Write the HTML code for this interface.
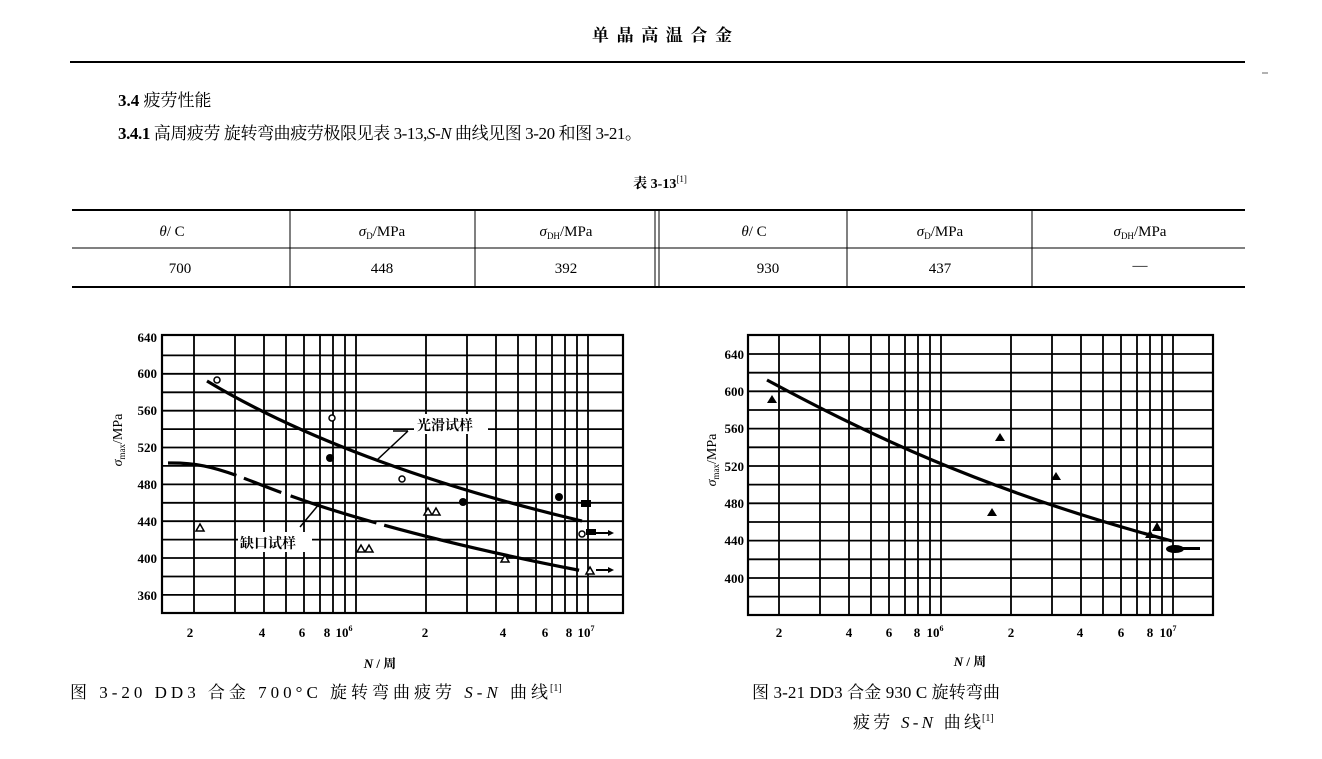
<!DOCTYPE html>
<html><head><meta charset="utf-8"><style>
html,body{margin:0;padding:0;background:#fff;}
svg{display:block;}
text{font-family:"Liberation Serif","Noto Serif CJK SC","Noto Sans CJK SC",serif;fill:#000;}
.b{font-weight:bold;}
.tk{font-size:13px;font-weight:bold;}
</style></head><body>
<svg width="1322" height="759" viewBox="0 0 1322 759" xmlns="http://www.w3.org/2000/svg">
<!-- header -->
<text x="592" y="41" font-size="17" class="b" textLength="140" lengthAdjust="spacing">单晶高温合金</text>
<line x1="70" y1="62" x2="1245" y2="62" stroke="#000" stroke-width="2"/>
<line x1="1262" y1="73" x2="1268" y2="73" stroke="#666" stroke-width="1"/>
<text x="118" y="106" font-size="17" class="b">3.4  <tspan font-weight="normal">疲劳性能</tspan></text>
<text x="118" y="139" font-size="17" textLength="524" lengthAdjust="spacing"><tspan class="b">3.4.1</tspan>  高周疲劳  旋转弯曲疲劳极限见表 3-13,<tspan font-style="italic">S</tspan>-<tspan font-style="italic">N</tspan> 曲线见图 3-20 和图 3-21。</text>
<text x="660" y="188" font-size="14" text-anchor="middle" class="b">表 3-13<tspan font-size="9" dy="-6" font-weight="normal">[1]</tspan></text>
<!-- table -->
<g stroke="#000">
<line x1="72" y1="210" x2="1245" y2="210" stroke-width="2"/>
<line x1="72" y1="248" x2="1245" y2="248" stroke-width="1"/>
<line x1="72" y1="287" x2="1245" y2="287" stroke-width="2"/>
<line x1="290" y1="210" x2="290" y2="287" stroke-width="1"/>
<line x1="475" y1="210" x2="475" y2="287" stroke-width="1"/>
<line x1="655" y1="210" x2="655" y2="287" stroke-width="1"/>
<line x1="659" y1="210" x2="659" y2="287" stroke-width="1"/>
<line x1="847" y1="210" x2="847" y2="287" stroke-width="1"/>
<line x1="1032" y1="210" x2="1032" y2="287" stroke-width="1"/>
</g>
<g font-size="15" text-anchor="middle">
<text x="172" y="236"><tspan font-style="italic">θ</tspan>/ C</text>
<text x="382" y="236"><tspan font-style="italic">σ</tspan><tspan font-size="9" dy="3">D</tspan><tspan dy="-3">/MPa</tspan></text>
<text x="566" y="236"><tspan font-style="italic">σ</tspan><tspan font-size="9" dy="3">DH</tspan><tspan dy="-3">/MPa</tspan></text>
<text x="754" y="236"><tspan font-style="italic">θ</tspan>/ C</text>
<text x="940" y="236"><tspan font-style="italic">σ</tspan><tspan font-size="9" dy="3">D</tspan><tspan dy="-3">/MPa</tspan></text>
<text x="1140" y="236"><tspan font-style="italic">σ</tspan><tspan font-size="9" dy="3">DH</tspan><tspan dy="-3">/MPa</tspan></text>
<text x="180" y="273">700</text><text x="382" y="273">448</text><text x="566" y="273">392</text>
<text x="768" y="273">930</text><text x="940" y="273">437</text><text x="1140" y="270">—</text>
</g>

<!-- LEFT CHART -->
<g stroke="#000" stroke-width="1.8" fill="none">
<rect x="162" y="335" width="461" height="278" stroke-width="2.2"/>
<path d="M194,335V613M235,335V613M264,335V613M286,335V613M304,335V613M320,335V613M333,335V613M345,335V613M356,335V613M426,335V613M467,335V613M496,335V613M518,335V613M536,335V613M552,335V613M565,335V613M577,335V613M588,335V613"/>
<path d="M162,355.4H623M162,373.8H623M162,392.3H623M162,410.7H623M162,429.1H623M162,447.5H623M162,465.9H623M162,484.4H623M162,502.8H623M162,521.2H623M162,539.6H623M162,558H623M162,576.5H623M162,594.9H623"/>
<path d="M207,381 C280,425 400,478 582,521" stroke-width="3.2"/>
<path d="M168,463 C220,462 240,480 320,506 S500,555 583,571" stroke-width="3.2" stroke-dasharray="70 8 40 10 90 8 200"/>
<path d="M408,431L377,460M393,431H408" stroke-width="1.5"/>
<path d="M300,527L320,503" stroke-width="1.5"/>
<path d="M596,533H610M596,570H610" stroke-width="2"/>
</g>
<g fill="#000">
<path d="M614,533l-6,-3v6zM614,570l-6,-3v6z"/>
<circle cx="330" cy="458" r="4"/><circle cx="463" cy="502" r="4"/><circle cx="559" cy="497" r="4"/>
<rect x="581" y="500" width="10" height="7"/><rect x="586" y="529" width="10" height="6"/>
</g>
<g fill="#fff" stroke="#000" stroke-width="1.5">
<circle cx="217" cy="380" r="3"/><circle cx="332" cy="418" r="3"/><circle cx="402" cy="479" r="3"/><circle cx="582" cy="534" r="3"/>
<path d="M200,524l4,7h-8zM361,545l4,7h-8zM369,545l4,7h-8zM428,508l4,7h-8zM436,508l4,7h-8zM505,555l4,7h-8zM590,567l4,7h-8z"/>
</g>
<rect x="414" y="414" width="74" height="20" fill="#fff"/>
<text x="417" y="430" font-size="14" class="b">光滑试样</text>
<rect x="238" y="532" width="74" height="20" fill="#fff"/>
<text x="240" y="548" font-size="14" class="b">缺口试样</text>
<g class="tk" text-anchor="end">
<text x="157" y="342">640</text><text x="157" y="378">600</text><text x="157" y="415">560</text>
<text x="157" y="452">520</text><text x="157" y="489">480</text><text x="157" y="526">440</text>
<text x="157" y="563">400</text><text x="157" y="600">360</text>
</g>
<g class="tk" text-anchor="middle">
<text x="190" y="637">2</text><text x="262" y="637">4</text><text x="302" y="637">6</text><text x="327" y="637">8</text>
<text x="344" y="637">10<tspan font-size="8" dy="-6">6</tspan></text>
<text x="425" y="637">2</text><text x="503" y="637">4</text><text x="545" y="637">6</text><text x="569" y="637">8</text>
<text x="586" y="637">10<tspan font-size="8" dy="-6">7</tspan></text>
</g>
<text x="380" y="668" font-size="13" text-anchor="middle" class="b"><tspan font-style="italic">N</tspan> / 周</text>
<text transform="translate(122,440) rotate(-90)" font-size="14" text-anchor="middle"><tspan font-style="italic">σ</tspan><tspan font-size="9" dy="3">max</tspan><tspan dy="-3">/MPa</tspan></text>
<text x="70" y="698" font-size="17" textLength="478" lengthAdjust="spacing">图 3-20   DD3 合金 700°C 旋转弯曲疲劳 <tspan font-style="italic">S</tspan>-<tspan font-style="italic">N</tspan> 曲线</text>
<text x="550" y="691" font-size="10">[1]</text>

<!-- RIGHT CHART -->
<g stroke="#000" stroke-width="1.8" fill="none">
<rect x="748" y="335" width="465" height="280" stroke-width="2.2"/>
<path d="M779,335V615M820,335V615M849,335V615M871,335V615M889,335V615M905,335V615M918,335V615M930,335V615M941,335V615M1011,335V615M1052,335V615M1081,335V615M1103,335V615M1121,335V615M1137,335V615M1150,335V615M1162,335V615M1173,335V615"/>
<path d="M748,354H1213M748,372.7H1213M748,391.3H1213M748,410H1213M748,428.6H1213M748,447.3H1213M748,466H1213M748,484.6H1213M748,503.3H1213M748,522H1213M748,540.6H1213M748,559.3H1213M748,578H1213M748,596.6H1213"/>
<path d="M767,380 C860,430 980,490 1172,541" stroke-width="3.2"/>
</g>
<g fill="#000">
<path d="M772,395l5,8h-10zM1000,433l5,8h-10zM992,508l5,8h-10zM1056,472l5,8h-10zM1157,522l5,9h-10zM1150,530l5,8h-10z"/>
<ellipse cx="1175" cy="549" rx="9" ry="4"/>
<path d="M1183,547H1200v3H1183z"/>
</g>
<g class="tk" text-anchor="end">
<text x="744" y="359">640</text><text x="744" y="396">600</text><text x="744" y="433">560</text>
<text x="744" y="471">520</text><text x="744" y="508">480</text><text x="744" y="545">440</text>
<text x="744" y="583">400</text>
</g>
<g class="tk" text-anchor="middle">
<text x="779" y="637">2</text><text x="849" y="637">4</text><text x="889" y="637">6</text><text x="917" y="637">8</text>
<text x="935" y="637">10<tspan font-size="8" dy="-6">6</tspan></text>
<text x="1011" y="637">2</text><text x="1080" y="637">4</text><text x="1121" y="637">6</text><text x="1150" y="637">8</text>
<text x="1168" y="637">10<tspan font-size="8" dy="-6">7</tspan></text>
</g>
<text x="970" y="666" font-size="13" text-anchor="middle" class="b"><tspan font-style="italic">N</tspan> / 周</text>
<text transform="translate(716,460) rotate(-90)" font-size="14" text-anchor="middle"><tspan font-style="italic">σ</tspan><tspan font-size="9" dy="3">max</tspan><tspan dy="-3">/MPa</tspan></text>
<text x="752" y="698" font-size="17" textLength="248" lengthAdjust="spacing">图 3-21   DD3 合金 930 C 旋转弯曲</text>
<text x="853" y="728" font-size="17" textLength="128" lengthAdjust="spacing">疲劳 <tspan font-style="italic">S</tspan>-<tspan font-style="italic">N</tspan> 曲线</text>
<text x="982" y="721" font-size="10">[1]</text>
</svg>
</body></html>
